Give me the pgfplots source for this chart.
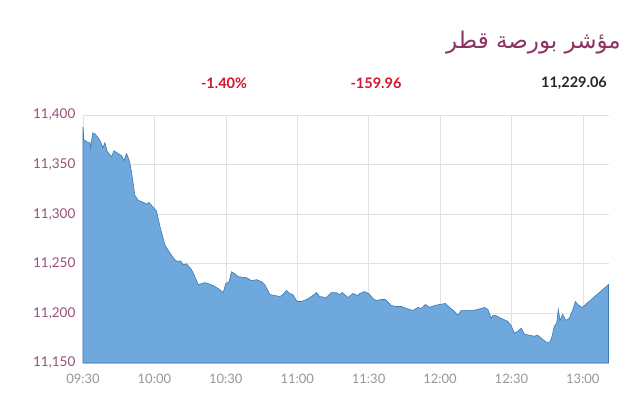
\documentclass[border=0pt]{standalone}
\usepackage{pgfplots}
\pgfplotsset{compat=1.18}
\usepackage{fontspec}
\setmainfont{Lato}
\newfontfamily\arabicfont[Script=Arabic]{DejaVu Sans}
\TeXXeTstate=1
\definecolor{fillblue}{RGB}{111,168,220}
\definecolor{lineblue}{RGB}{60,120,180}
\definecolor{plum}{RGB}{140,50,100}
\definecolor{ytick}{RGB}{150,80,120}
\definecolor{xtick}{RGB}{150,150,150}
\definecolor{gridc}{RGB}{225,225,225}
\definecolor{redc}{RGB}{210,20,45}
\begin{document}
\begin{tikzpicture}
\begin{axis}[name=main,
  scale only axis, width=526pt, height=248pt,
  xmin=0, xmax=221, ymin=11150, ymax=11400,
  xtick={0,30,60,90,120,150,180,210},
  xticklabels={09:30,10:00,10:30,11:00,11:30,12:00,12:30,13:00},
  ytick={11150,11200,11250,11300,11350,11400},
  scaled y ticks=false,
  /pgf/number format/assume math mode=true,
  /pgf/number format/1000 sep={,},
  /pgf/number format/fixed, /pgf/number format/precision=0,
  yticklabel style={color=ytick, font=\fontsize{13.5}{15}\selectfont, xshift=-2pt},
  xticklabel style={color=xtick, font=\fontsize{13}{15}\selectfont, yshift=-5pt},
  grid=major, grid style={gridc, line width=0.6pt},
  axis x line=bottom, axis y line=left,
  axis line style={gridc, -},
  tick style={draw=none},
  clip=false,
]
\addplot[fill=fillblue, draw=lineblue, line width=0.6pt] coordinates {
(0,11388)(0.4,11375)(1.6,11373)(2.9,11372)(3.2,11367)(4.1,11382)(5.0,11381)(6.4,11377)(7.4,11373)(8.3,11367)(9.2,11372)(10.2,11363)(11.3,11360)(12.0,11358)(13.0,11364)(14.8,11361)(16.2,11359)(17.2,11354)(18.3,11361)(19.3,11355)(20.0,11348)(20.9,11334)(21.8,11319)(23.2,11314)(25.3,11312)(27.0,11310)(27.6,11312)(29.5,11307)(30.9,11303)(32.3,11288)(34.4,11269)(36.5,11261)(38.6,11254)(40.0,11252)(41.0,11253)(42.1,11249)(43.5,11250)(45.6,11244)(47.0,11237)(48.4,11229)(49.8,11230)(51.2,11231)(52.6,11230)(54.7,11228)(56.8,11225)(58.9,11221)(60.0,11230)(61.4,11232)(62.4,11242)(63.8,11240)(65.2,11237)(68.7,11236)(70.8,11233)(72.9,11234)(75.0,11232)(76.4,11229)(78.5,11219)(80.6,11218)(82.7,11217)(84.0,11219)(85.5,11223)(86.9,11220)(88.2,11219)(89.9,11212)(91.8,11212)(93.9,11214)(96.0,11217)(98.1,11221)(99.4,11217)(102.2,11216)(104.3,11221)(106.4,11221)(107.8,11219)(109.0,11221)(111.3,11216)(113.4,11220)(115.5,11218)(116.2,11220)(118.3,11222)(120.1,11220)(121.8,11215)(123.2,11213)(125.3,11214)(127.1,11214)(129.5,11208)(131.6,11207)(133.7,11207)(135.8,11205)(138.6,11203)(140.7,11206)(142.1,11205)(143.9,11209)(145.6,11206)(147.7,11208)(149.8,11209)(152.3,11210)(154.0,11206)(156.1,11202)(157.5,11198)(158.9,11203)(161.7,11203)(163.8,11203)(165.9,11204)(168.7,11206)(170.1,11204)(171.5,11195)(172.2,11198)(173.3,11198)(175.7,11195)(178.5,11192)(179.8,11188)(181.3,11180)(182.7,11182)(184.1,11185)(185.5,11179)(187.6,11178)(189.6,11177)(191.0,11178)(193.1,11174)(194.6,11171)(196.2,11171)(197.1,11177)(198.0,11187)(199.0,11190)(199.7,11204)(200.4,11193)(201.5,11199)(202.9,11193)(204.3,11195)(205.7,11203)(206.9,11212)(207.8,11209)(209.7,11206)(220.8,11229.06)
} \closedcycle;
\end{axis}
\path[use as bounding box] ([shift={(-83pt,-38pt)}]main.south west) rectangle ([shift={(31pt,115pt)}]main.north east);
\node[anchor=east, text=plum, font=\arabicfont\fontsize{23}{26}\selectfont, inner sep=0pt] at ([shift={(12pt,72pt)}]main.north east) {\beginR مؤشر بورصة قطر\endR};
\node[text=redc, font=\bfseries\fontsize{14.5}{16}\selectfont, inner sep=0pt] at ([shift={(141pt,32pt)}]main.north west) {-1.40\%};
\node[text=redc, font=\bfseries\fontsize{14.5}{16}\selectfont, inner sep=0pt] at ([shift={(293pt,32pt)}]main.north west) {-159.96};
\node[text=black!85, font=\bfseries\fontsize{14.5}{16}\selectfont, inner sep=0pt] at ([shift={(491pt,32pt)}]main.north west) {11,229.06};
\end{tikzpicture}
\end{document}
